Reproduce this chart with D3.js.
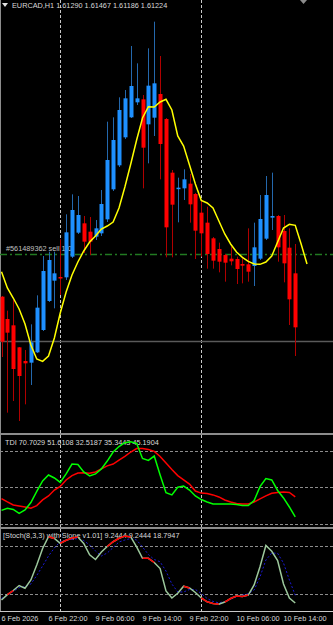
<!DOCTYPE html>
<html>
<head>
<meta charset="utf-8">
<script src="https://cdn.jsdelivr.net/npm/d3@7"></script>
<style>
  html, body { margin: 0; padding: 0; background: #000; }
  svg { display: block; }
  text { font-family: "Liberation Sans", Arial, sans-serif; font-size: 7.3px; fill: #d8d8d8; }
</style>
</head>
<body>
<svg id="chart" width="333" height="625"></svg>
<script>
// ------------------------------------------
//  Data (EURCAD H1, bar 0 = 6 Feb 2026 14:00)
// ------------------------------------------
const opens = [1.61357, 1.61290, 1.61271, 1.61205, 1.61164, 1.61159, 1.61190, 1.61257, 1.61344, 1.61405,
  1.61416, 1.61415, 1.61477, 1.61549, 1.61577, 1.61552, 1.61537, 1.61547, 1.61589, 1.61679,
  1.61751, 1.61835, 1.61895, 1.61940, 1.61949, 1.61874, 1.61894, 1.61965, 1.61890, 1.61729,
  1.61680, 1.61682, 1.61696, 1.61665, 1.61609, 1.61579, 1.61532, 1.61500, 1.61482, 1.61471,
  1.61470, 1.61455, 1.61454, 1.61449, 1.61471, 1.61531, 1.61594, 1.61599, 1.61554, 1.61504, 1.61427]
const highs = [1.61359, 1.61315, 1.61347, 1.61206, 1.61197, 1.61274, 1.61361, 1.61479, 1.61492, 1.61492,
  1.61529, 1.61604, 1.61664, 1.61659, 1.61599, 1.61596, 1.61587, 1.61677, 1.61882, 1.61895,
  1.61955, 1.61977, 1.62109, 1.62057, 1.61962, 1.62102, 1.62182, 1.62079, 1.61893, 1.61737,
  1.61714, 1.61739, 1.61725, 1.61668, 1.61647, 1.61627, 1.61536, 1.61519, 1.61485, 1.61507,
  1.61477, 1.61472, 1.61562, 1.61579, 1.61662, 1.61719, 1.61729, 1.61602, 1.61602, 1.61562, 1.61515]
const lows = [1.61176, 1.61009, 1.61044, 1.60984, 1.61034, 1.61092, 1.61188, 1.61254, 1.61341, 1.61322,
  1.61362, 1.61407, 1.61473, 1.61545, 1.61488, 1.61482, 1.61527, 1.61539, 1.61581, 1.61674,
  1.61746, 1.61830, 1.61893, 1.61932, 1.61682, 1.61757, 1.61839, 1.61709, 1.61475, 1.61475,
  1.61580, 1.61647, 1.61579, 1.61470, 1.61477, 1.61441, 1.61441, 1.61430, 1.61402, 1.61451,
  1.61395, 1.61397, 1.61402, 1.61389, 1.61467, 1.61527, 1.61557, 1.61462, 1.61400, 1.61272, 1.61179]
const closes = [1.61222, 1.61249, 1.61140, 1.61119, 1.61157, 1.61220, 1.61324, 1.61434, 1.61467, 1.61427,
  1.61413, 1.61550, 1.61617, 1.61602, 1.61522, 1.61522, 1.61562, 1.61635, 1.61767, 1.61827,
  1.61917, 1.61952, 1.61989, 1.61952, 1.61804, 1.61990, 1.61997, 1.61815, 1.61565, 1.61633,
  1.61684, 1.61709, 1.61634, 1.61555, 1.61547, 1.61485, 1.61465, 1.61462, 1.61459, 1.61463,
  1.61440, 1.61450, 1.61432, 1.61505, 1.61590, 1.61662, 1.61599, 1.61505, 1.61457, 1.61349, 1.61265]

// moving average, drawn with a 2 bar forward shift (53 points)
const maValues = [1.61432, 1.61383, 1.61353, 1.61320, 1.61275, 1.61212, 1.61170, 1.61163, 1.61179, 1.61233,
  1.61308, 1.61371, 1.61422, 1.61461, 1.61494, 1.61521, 1.61539, 1.61560, 1.61569, 1.61581,
  1.61623, 1.61686, 1.61755, 1.61827, 1.61893, 1.61927, 1.61926, 1.61941, 1.61949, 1.61917,
  1.61839, 1.61809, 1.61752, 1.61695, 1.61646, 1.61638, 1.61623, 1.61584, 1.61545, 1.61515,
  1.61491, 1.61475, 1.61463, 1.61455, 1.61454, 1.61461, 1.61479, 1.61521, 1.61563, 1.61574,
  1.61571, 1.61515, 1.61455]

const orderPrice = 1.61485
const orderLabel = '#561489362 sell 1.0'
const bidPrice = 1.61224
const title = 'EURCAD,H1  1.61290 1.61467 1.61186 1.61224'

// TDI
const tdiPrice = [38.5, 39.6, 39.0, 37.0, 38.7, 42.4, 47.9, 53.1, 56.1, 54.6,
  52.4, 56.6, 61.5, 61.3, 57.6, 55.6, 56.6, 59.1, 63.0, 67.5,
  70.2, 72.1, 72.6, 71.8, 64.3, 63.3, 65.5, 56.1, 47.3, 46.2,
  50.0, 50.6, 48.6, 45.7, 43.9, 42.7, 41.7, 41.7, 41.7, 41.7,
  41.4, 40.9, 40.9, 43.4, 50.3, 54.3, 53.6, 48.4, 44.7, 40.2, 35.34]
const tdiSignal = [44.4, 42.7, 41.2, 40.7, 40.2, 39.6, 40.9, 43.7, 45.7, 48.6,
  50.4, 53.6, 55.8, 57.1, 57.2, 56.9, 57.6, 59.1, 60.6, 61.5,
  63.5, 65.3, 67.5, 69.2, 69.2, 68.7, 67.8, 65.3, 62.0, 58.8,
  55.8, 53.7, 51.6, 48.1, 47.1, 46.9, 46.2, 45.2, 43.7, 42.7,
  41.9, 41.7, 41.7, 42.7, 44.2, 45.7, 47.0, 47.4, 47.6, 47.4, 45.19]
const tdiLevels = [32, 50, 68]
const tdiLabel = 'TDI 70.7029 51.6108 32.5187 35.3443 45.1904'

// Stochastic with slope
const stochMain = [12.9, 19.5, 24.7, 30.9, 27.5, 37.8, 56.4, 76.9, 91.6, 89.3,
  83.4, 87.1, 89.9, 91.2, 83.1, 69.1, 63.2, 72.5, 79.4, 85.3,
  89.6, 92.4, 91.2, 78.8, 64.7, 64.7, 59.5, 52.0, 24.1, 15.4,
  21.2, 30.1, 27.8, 22.2, 15.4, 10.7, 8.6, 7.7, 10.4, 14.8,
  17.9, 17.3, 19.1, 31.6, 54.3, 80.6, 73.4, 62.0, 32.8, 15.4, 9.24]
const stochSignal = [14.8, 19.1, 23.5, 28.4, 29.3, 32.8, 43.4, 55.2, 67.6, 77.5,
  85.6, 87.5, 88.1, 89.3, 86.8, 81.2, 73.8, 67.6, 71.3, 78.1,
  85.0, 87.5, 89.3, 87.5, 78.8, 69.4, 63.2, 60.4, 48.9, 32.8,
  22.9, 22.9, 26.0, 26.0, 21.0, 14.8, 11.1, 9.4, 11.1, 13.8,
  17.3, 18.9, 20.7, 25.3, 41.5, 62.6, 71.3, 70.9, 58.9, 37.8, 18.79]
const stochRedRuns = [[1, 2], [8, 9], [10, 13], [18, 22], [24, 26], [31, 32], [34, 37], [38, 42]]
const stochLevels = [20, 80]
const stochLabel = '[Stoch(8,3,3) with Slope v1.01] 9.2444 9.2444 18.7947'

// time axis
const tickBars = [0, 8, 16, 24, 32, 40, 48]
const tickLabels = ['6 Feb 2026', '6 Feb 22:00', '9 Feb 06:00', '9 Feb 14:00', '9 Feb 22:00', '10 Feb 06:00', '10 Feb 14:00']
const dayBreaks = [10, 34]

// ------------------------------------------
//  Layout
// ------------------------------------------
const W = 333
const svg = d3.select('#chart')
const x = d3.scaleLinear().domain([0, 50]).range([1.5, 295.25])
const yMain = d3.scaleLinear().domain([1.60951, 1.62247]).range([432, 0])
const yTdi = d3.scaleLinear().domain([32, 68]).range([523.5, 451])
const yStoch = d3.scaleLinear().domain([20, 80]).range([594.3, 546])

const panels = [
  { top: 0, bottom: 433 },
  { top: 435, bottom: 527 },
  { top: 529, bottom: 611 }
]

svg.append('rect').attr('width', W).attr('height', 625).attr('fill', '#000')

// day separators (dotted verticals)
panels.forEach(p => {
  svg.selectAll(null).data(dayBreaks).enter().append('line')
    .attr('x1', d => Math.round(x(d)) + 0.5).attr('x2', d => Math.round(x(d)) + 0.5)
    .attr('y1', p.top).attr('y2', p.bottom)
    .attr('stroke', '#c8c8c8').attr('stroke-dasharray', '3,2')
})

// panel separators
;[433, 527].forEach(y => {
  svg.append('rect').attr('x', 0).attr('y', y).attr('width', W).attr('height', 2).attr('fill', '#8c8c8c')
})
svg.append('line').attr('x1', 0.5).attr('x2', 0.5).attr('y1', 0).attr('y2', 611)
  .attr('stroke', '#8c8c8c')

// ------------------------------------------
//  Main chart
// ------------------------------------------
const main = svg.append('g')

main.append('line')
  .attr('x1', 0).attr('x2', W)
  .attr('y1', Math.round(yMain(bidPrice)) + 0.5).attr('y2', Math.round(yMain(bidPrice)) + 0.5)
  .attr('stroke', '#5a5a5a').attr('stroke-width', 1.5)

main.append('line')
  .attr('x1', 0).attr('x2', W)
  .attr('y1', Math.round(yMain(orderPrice)) + 0.5).attr('y2', Math.round(yMain(orderPrice)) + 0.5)
  .attr('stroke', '#217a21').attr('stroke-width', 1.3).attr('stroke-dasharray', '7,3,2,3')

main.append('text').attr('x', 6).attr('y', yMain(orderPrice) - 3).text(orderLabel).style('fill', '#c0c0c0')

const bars = d3.range(opens.length).map(i => ({
  i, o: opens[i], h: highs[i], l: lows[i], c: closes[i], up: closes[i] >= opens[i]
}))

main.selectAll('.wick').data(bars).enter().append('line')
  .attr('class', 'wick')
  .attr('x1', d => Math.round(x(d.i)) + 0.5).attr('x2', d => Math.round(x(d.i)) + 0.5)
  .attr('y1', d => yMain(d.h)).attr('y2', d => yMain(d.l))
  .attr('stroke', d => d.up ? '#2468ad' : '#b00000')

main.selectAll('.body').data(bars).enter().append('rect')
  .attr('class', 'body')
  .attr('x', d => Math.round(x(d.i)) - 1.5)
  .attr('width', 4)
  .attr('y', d => yMain(Math.max(d.o, d.c)))
  .attr('height', d => Math.max(1.5, Math.abs(yMain(d.o) - yMain(d.c))))
  .attr('fill', d => d.up ? '#1e90ff' : '#ff0000')

main.append('path')
  .datum(maValues)
  .attr('fill', 'none').attr('stroke', '#ffff00').attr('stroke-width', 1.5)
  .attr('d', d3.line().x((d, i) => x(i)).y(d => yMain(d)))

// header
main.append('path').attr('d', 'M2,3 L8,3 L5,7 Z').attr('fill', '#e0e0e0')
main.append('text').attr('x', 12).attr('y', 8).text(title)
main.append('path').attr('d', 'M300,0 L307,0 L303.5,4 Z').attr('fill', '#8c8c8c')

// ------------------------------------------
//  TDI
// ------------------------------------------
const tdi = svg.append('g')
tdi.selectAll('.lvl').data(tdiLevels).enter().append('line')
  .attr('x1', 0).attr('x2', W)
  .attr('y1', d => Math.round(yTdi(d)) + 0.5).attr('y2', d => Math.round(yTdi(d)) + 0.5)
  .attr('stroke', '#8c8c8c').attr('stroke-dasharray', '3,2')

tdi.append('text').attr('x', 5).attr('y', 445).text(tdiLabel)

tdi.append('path').datum(tdiSignal)
  .attr('fill', 'none').attr('stroke', '#ff0000').attr('stroke-width', 1.5)
  .attr('d', d3.line().x((d, i) => x(i)).y(d => yTdi(d)))
tdi.append('path').datum(tdiPrice)
  .attr('fill', 'none').attr('stroke', '#00ff00').attr('stroke-width', 1.5)
  .attr('d', d3.line().x((d, i) => x(i)).y(d => yTdi(d)))

// ------------------------------------------
//  Stochastic
// ------------------------------------------
const st = svg.append('g')
st.selectAll('.lvl').data(stochLevels).enter().append('line')
  .attr('x1', 0).attr('x2', W)
  .attr('y1', d => Math.round(yStoch(d)) + 0.5).attr('y2', d => Math.round(yStoch(d)) + 0.5)
  .attr('stroke', '#8c8c8c').attr('stroke-dasharray', '3,2')

st.append('text').attr('x', 3).attr('y', 538).text(stochLabel)

const stLine = d3.line().x(d => x(d[0])).y(d => yStoch(d[1]))
st.append('path').datum(stochSignal.map((v, i) => [i, v]))
  .attr('fill', 'none').attr('stroke', '#1a1ad8').attr('stroke-width', 1).attr('stroke-dasharray', '2,2')
  .attr('d', stLine)
st.append('path').datum(stochMain.map((v, i) => [i, v]))
  .attr('fill', 'none').attr('stroke', '#9cc89c').attr('stroke-width', 1.5)
  .attr('d', stLine)
st.selectAll('.red').data(stochRedRuns).enter().append('path')
  .attr('fill', 'none').attr('stroke', '#ff0000').attr('stroke-width', 1.5)
  .attr('d', r => stLine(d3.range(r[0], r[1] + 1).map(i => [i, stochMain[i]])))

// ------------------------------------------
//  Time axis
// ------------------------------------------
svg.append('line').attr('x1', 0).attr('x2', W).attr('y1', 611.5).attr('y2', 611.5).attr('stroke', '#c8c8c8')
svg.selectAll('.tick').data(tickBars).enter().append('text')
  .attr('x', d => x(d)).attr('y', 621)
  .text((d, i) => tickLabels[i])
</script>
</body>
</html>
